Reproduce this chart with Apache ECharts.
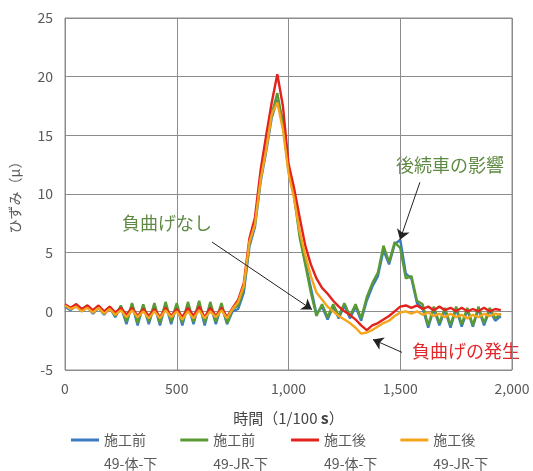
<!DOCTYPE html>
<html>
<head>
<meta charset="utf-8">
<script src="https://cdn.jsdelivr.net/npm/echarts@6/dist/echarts.min.js"></script>
<style>
  html, body { margin: 0; padding: 0; background: #fff; }
  #chart { width: 533px; height: 471px; }
</style>
</head>
<body>
<div id="chart"></div>
<script>
// 時間 (1/100 s)
const time = [
  0, 25, 50, 75, 100, 125, 150, 175, 200, 225, 250, 275, 300, 325, 350, 375,
  400, 425, 450, 475, 500, 525, 550, 575, 600, 625, 650, 675, 700, 725, 750, 775,
  800, 825, 850, 875, 900, 925, 950, 975, 1000, 1025, 1050, 1075, 1100, 1125, 1150, 1175,
  1200, 1225, 1250, 1275, 1300, 1325, 1350, 1375, 1400, 1425, 1450, 1475, 1500, 1525, 1550, 1575,
  1600, 1625, 1650, 1675, 1700, 1725, 1750, 1775, 1800, 1825, 1850, 1875, 1900, 1925, 1950
];

// 施工前 49-体-下
const beforeTai = [
  0.4, 0.1, 0.5, 0.0, 0.4, -0.2, 0.3, -0.3, 0.3, -0.5, 0.4, -1.1, 0.6, -1.2, 0.5, -1.1,
  0.5, -1.2, 0.6, -1.1, 0.5, -1.2, 0.6, -1.1, 0.7, -1.2, 0.6, -1.1, 0.5, -1.1, 0.0, 0.2,
  1.6, 5.5, 7.2, 11.0, 13.6, 16.5, 18.0, 16.2, 12.2, 10.0, 6.6, 4.2, 2.0, -0.2, 0.4, -0.7,
  0.4, -0.6, 0.5, -0.6, 0.4, -0.8, 0.9, 2.1, 3.0, 5.2, 4.0, 5.7, 6.1, 3.2, 2.8, 0.7,
  0.3, -1.4, 0.2, -1.2, 0.1, -1.4, 0.2, -1.3, 0.1, -1.3, 0.2, -1.2, 0.1, -0.8, -0.4
];

// 施工前 49-JR-下
const beforeJR = [
  0.5, 0.2, 0.6, 0.1, 0.5, -0.1, 0.4, -0.2, 0.4, -0.4, 0.5, -0.9, 0.7, -1.0, 0.6, -0.9,
  0.7, -1.0, 0.8, -0.9, 0.7, -1.0, 0.8, -0.9, 0.9, -1.0, 0.8, -0.9, 0.7, -1.0, 0.2, 0.5,
  2.0, 5.8, 7.5, 11.3, 14.0, 16.8, 18.6, 16.0, 12.0, 9.8, 6.3, 4.0, 1.6, -0.4, 0.6, -0.5,
  0.6, -0.4, 0.7, -0.4, 0.6, -0.6, 1.2, 2.4, 3.3, 5.6, 4.2, 5.9, 5.4, 2.8, 3.0, 0.9,
  0.6, -1.2, 0.4, -1.0, 0.3, -1.2, 0.4, -1.1, 0.3, -1.2, 0.4, -1.0, 0.3, -0.6, -0.2
];

// 施工後 49-体-下
const afterTai = [
  0.6, 0.3, 0.6, 0.2, 0.5, 0.1, 0.5, 0.0, 0.4, -0.1, 0.3, -0.3, 0.3, -0.4, 0.2, -0.4,
  0.2, -0.5, 0.3, -0.4, 0.2, -0.5, 0.3, -0.4, 0.4, -0.5, 0.3, -0.4, 0.3, -0.5, 0.3, 1.0,
  2.4, 6.2, 8.0, 12.0, 15.0, 17.8, 20.2, 17.5, 12.6, 10.5, 8.0, 5.6, 4.0, 2.8, 2.0, 1.5,
  0.9, 0.4, 0.0, -0.3, -0.7, -1.2, -1.6, -1.2, -1.0, -0.7, -0.4, 0.0, 0.4, 0.5, 0.3, 0.5,
  0.2, 0.4, 0.1, 0.4, 0.1, 0.3, 0.0, 0.3, 0.0, 0.2, 0.0, 0.3, 0.0, 0.2, 0.1
];

// 施工後 49-JR-下
const afterJR = [
  0.5, 0.2, 0.4, 0.0, 0.3, -0.1, 0.3, -0.2, 0.2, -0.3, 0.1, -0.5, 0.1, -0.5, 0.0, -0.6,
  0.0, -0.6, 0.1, -0.5, 0.0, -0.7, 0.0, -0.6, 0.1, -0.6, 0.0, -0.5, 0.1, -0.6, 0.2, 0.8,
  2.2, 5.9, 7.4, 11.2, 13.8, 16.8, 17.8, 15.5, 11.8, 9.6, 6.8, 4.8, 3.0, 1.6, 1.0, 0.4,
  0.0, -0.4, -0.7, -1.0, -1.4, -1.9, -1.8, -1.6, -1.3, -1.0, -0.8, -0.4, -0.1, 0.0, -0.2, 0.0,
  -0.3, -0.1, -0.4, -0.2, -0.5, -0.2, -0.5, -0.3, -0.6, -0.3, -0.5, -0.2, -0.4, -0.2, -0.3
];

const seriesNames = ['施工前\n49-体-下', '施工前\n49-JR-下', '施工後\n49-体-下', '施工後\n49-JR-下'];
const seriesColors = ['#3a7bc4', '#5a9a32', '#e3211d', '#f5a51c'];
const seriesValues = [beforeTai, beforeJR, afterTai, afterJR];

// 注記の矢印 [始点, 終点] (データ座標)
const arrows = [
  [[658, 5.9], [1105, 0.15]],
  [[1588, 11.0], [1499, 6.1]],
  [[1508, -3.5], [1378, -2.4]]
];

const chart = echarts.init(document.getElementById('chart'));
const font = '"Noto Sans CJK JP", "Noto Sans", sans-serif';

const series = seriesNames.map((name, i) => ({
  name: name,
  type: 'line',
  symbol: 'none',
  smooth: false,
  color: seriesColors[i],
  lineStyle: { width: 2.4, color: seriesColors[i] },
  data: time.map((t, k) => [t, seriesValues[i][k]])
}));

series[0].markLine = {
  silent: true,
  animation: false,
  symbol: ['none', 'arrow'],
  symbolSize: 10,
  label: { show: false },
  lineStyle: { color: '#222', width: 1, type: 'solid' },
  data: arrows.map(a => [{ coord: a[0] }, { coord: a[1] }])
};

const option = {
  animation: false,
  textStyle: { fontFamily: font },
  grid: { left: 65, right: 21, top: 18, bottom: 101, show: true, borderColor: '#8c8c8c', borderWidth: 1 },
  xAxis: {
    type: 'value',
    min: 0,
    max: 2000,
    interval: 500,
    name: '時間（1/100 {b|s}）',
    nameLocation: 'middle',
    nameGap: 40,
    nameTextStyle: {
      color: '#444', fontSize: 15, fontFamily: font,
      rich: { b: { fontWeight: 'bold', fontSize: 16, color: '#444', fontFamily: font } }
    },
    axisLine: { lineStyle: { color: '#8c8c8c' } },
    axisTick: { show: false },
    axisLabel: {
      color: '#595959', fontSize: 14, margin: 12,
      formatter: v => v.toLocaleString('en-US')
    },
    splitLine: { show: true, lineStyle: { color: '#8c8c8c', width: 1 } }
  },
  yAxis: {
    type: 'value',
    min: -5,
    max: 25,
    interval: 5,
    name: 'ひずみ（μ）',
    nameLocation: 'middle',
    nameGap: 43,
    nameTextStyle: { color: '#595959', fontSize: 14, fontFamily: font },
    axisLine: { show: true, lineStyle: { color: '#8c8c8c' } },
    axisTick: { show: false },
    axisLabel: { color: '#595959', fontSize: 14, margin: 12 },
    splitLine: { show: true, lineStyle: { color: '#8c8c8c', width: 1 } }
  },
  legend: {
    left: 66,
    top: 399,
    itemWidth: 28,
    itemHeight: 3,
    itemGap: 23,
    icon: 'rect',
    formatter: n => '\n' + n,
    textStyle: { color: '#595959', fontSize: 14, lineHeight: 24, fontFamily: font }
  },
  graphic: [
    { type: 'text', left: 122, top: 214, style: { text: '負曲げなし', font: '18px ' + font, fill: '#5f8a43' } },
    { type: 'text', left: 396, top: 156, style: { text: '後続車の影響', font: '18px ' + font, fill: '#5f8a43' } },
    { type: 'text', left: 412, top: 342, style: { text: '負曲げの発生', font: '18px ' + font, fill: '#e0282c' } }
  ],
  series: series
};

chart.setOption(option);
window.addEventListener('resize', () => chart.resize());
</script>
</body>
</html>
